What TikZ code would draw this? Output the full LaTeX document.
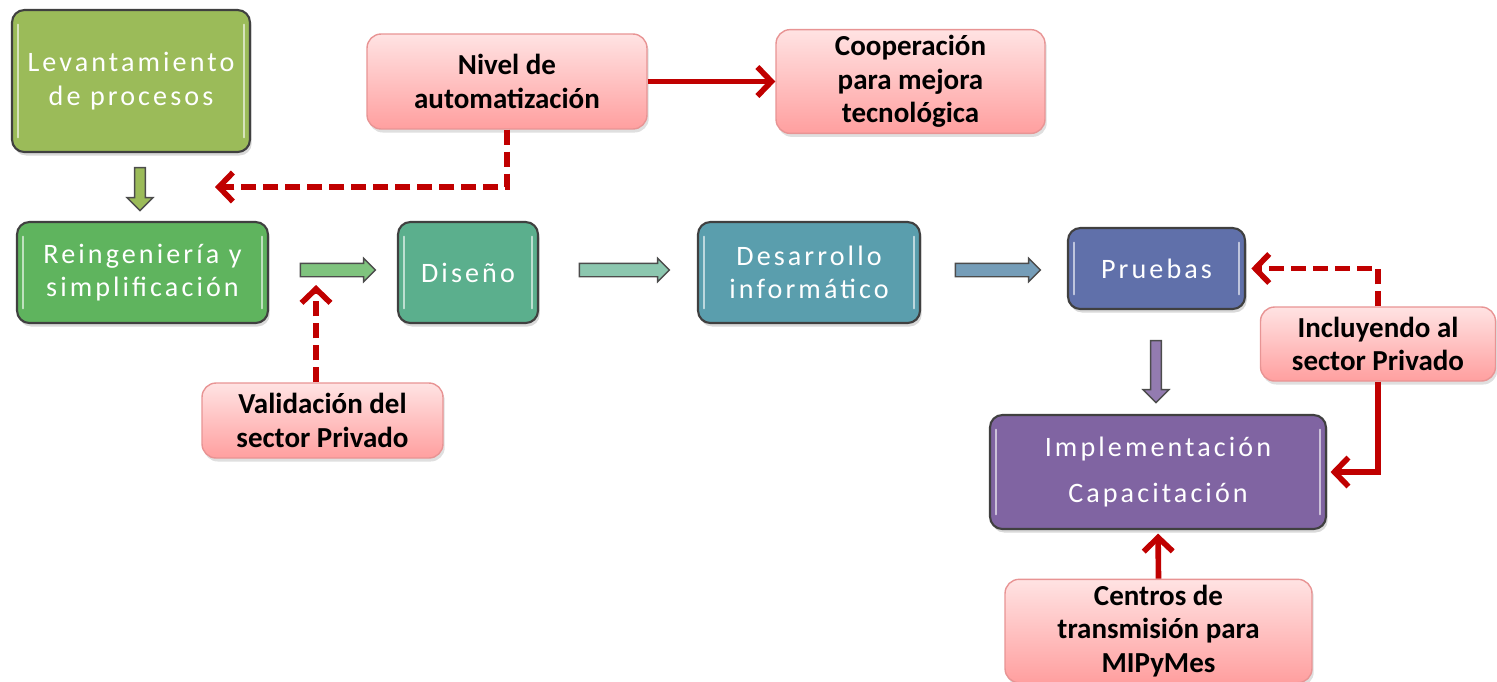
\documentclass[tikz,border=0pt]{standalone}
\usepackage{fontspec}
\setmainfont{Carlito}
\newfontfamily\stagefont[LetterSpace=11]{Carlito}
\usetikzlibrary{arrows.meta,shapes.arrows,shadows,calc}
\definecolor{ARed}{HTML}{C00000}
\definecolor{NoteTop}{HTML}{FFE3E3}
\definecolor{NoteBot}{HTML}{FF9F9F}
\definecolor{NoteEdge}{HTML}{E89494}
\definecolor{LevGreen}{HTML}{9BBB59}
\definecolor{ReiGreen}{HTML}{5FB45E}
\definecolor{DisTeal}{HTML}{5BAF8D}
\definecolor{DesBlue}{HTML}{5A9EAD}
\definecolor{PruBlue}{HTML}{6070AA}
\definecolor{ImpPurple}{HTML}{8064A2}
\tikzset{
    stage/.style = {draw=black!75, line width=1.2pt, rounded corners=7pt,
        text=white, align=center,
        font=\stagefont\fontsize{16}{19}\selectfont,
        drop shadow={opacity=.3,shadow xshift=1pt,shadow yshift=-2pt}},
    gloss/.style = {white, opacity=.6, line width=1.4pt, line cap=round},
    note/.style = {draw=NoteEdge, line width=.8pt, rounded corners=8pt,
        top color=NoteTop, bottom color=NoteBot, align=center,
        font=\bfseries\fontsize{16.5}{19}\selectfont,
        drop shadow={opacity=.25,shadow xshift=1pt,shadow yshift=-2pt}},
    flow/.style = {single arrow, draw=black!70, line width=.8pt,
        inner sep=0pt, inner ysep=0.12cm, single arrow head extend=0.1cm,
        single arrow tip angle=90, minimum width=0.46cm},
    downflow/.style = {flow, shape border rotate=270, inner sep=0.07cm,
        single arrow head extend=0.12cm, minimum width=0.52cm},
    link/.style = {draw=ARed, line width=3.2pt,
        -{Straight Barb[length=0.28cm,width=0.58cm]}},
    dlink/.style = {link, dash pattern=on 0.3cm off 0.14cm}
}

\begin{document}
\begin{tikzpicture}[x=0.02cm, y=-0.02cm]
    \useasboundingbox (0,0) rectangle (1497,681);
    % process stages
    \node[stage, fill=LevGreen, minimum width=4.76cm, minimum height=2.84cm] (lev) at (131,81) {Levantamiento\\de procesos};
    \node[stage, fill=ReiGreen, minimum width=5.02cm, minimum height=2.02cm] (rei) at (142.5,272.5) {Reingeniería y\\simplificación};
    \node[stage, fill=DisTeal, minimum width=2.8cm, minimum height=2.02cm] (dis) at (468,272.5) {Diseño};
    \node[stage, fill=DesBlue, minimum width=4.44cm, minimum height=2.02cm] (des) at (809,272.5) {Desarrollo\\informático};
    \node[stage, fill=PruBlue, minimum width=3.54cm, minimum height=1.62cm] (pru) at (1156.5,268.5) {Pruebas};
    \node[stage, fill=ImpPurple, minimum width=6.72cm, minimum height=2.28cm] (imp) at (1158,472) {Implementación\\[7pt]Capacitación};
    \foreach \n in {lev,rei,dis,des,pru,imp}
        \draw[gloss] ([xshift=4pt,yshift=-9pt]\n.north west) -- ([xshift=4pt,yshift=9pt]\n.south west)
                     ([xshift=-4pt,yshift=-9pt]\n.north east) -- ([xshift=-4pt,yshift=9pt]\n.south east);
    % block arrows between stages
    \node[downflow, fill=LevGreen, minimum height=0.86cm] (a1) at (140,186.5) {};
    \node[flow, fill=ReiGreen!80!white, minimum height=1.5cm] (a2) at (334.5,270) {};
    \node[flow, fill=DisTeal!70!white, minimum height=1.8cm] (a3) at (621,270) {};
    \node[flow, fill=DesBlue!60!PruBlue!85!white, minimum height=1.7cm] (a4) at (994.5,270) {};
    \node[downflow, fill=ImpPurple!85!white, minimum height=1.24cm] (a5) at (1156,369) {};
    % notes
    \node[note, minimum width=5.6cm, minimum height=1.9cm] (niv) at (507,81.5) {Nivel de\\automatización};
    \node[note, minimum width=5.38cm, minimum height=1.9cm] (coo) at (910.5,81.5) {Cooperación\\para mejora\\tecnológica};
    \node[note, minimum width=4.82cm, minimum height=1.5cm] (val) at (322.5,420.5) {Validación del\\sector Privado};
    \node[note, minimum width=4.7cm, minimum height=1.48cm] (inc) at (1378,344) {Incluyendo al\\sector Privado};
    \node[note, minimum width=6.14cm, minimum height=2.04cm] (cen) at (1158.5,631) {Centros de\\transmisión para\\MIPyMes};
    % red links
    \coordinate (autoEnd) at (215,187);
    \coordinate (valEnd) at (316,285);
    \draw[dlink] (niv.south) |- (autoEnd);
    \draw[link] (niv.east) -- (coo.west);
    \draw[dlink] (val.north -| valEnd) -- (valEnd);
    \draw[dlink, shorten >=3pt] (inc.north) |- (pru.east);
    \draw[link, shorten >=2pt] (inc.south) |- (imp.east);
    \draw[link, shorten >=2pt] (cen.north) -- (imp.south);
\end{tikzpicture}
\end{document}
